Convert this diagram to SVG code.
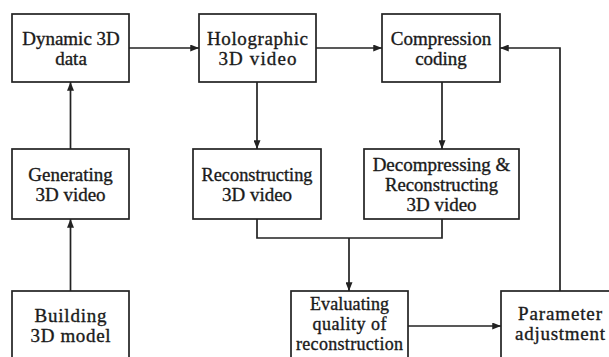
<svg xmlns="http://www.w3.org/2000/svg" width="609" height="357" viewBox="0 0 609 357">
<style>
.box{fill:#fff;stroke:#222;stroke-width:1.7}
.t{font-family:'Liberation Serif','Times New Roman',serif;font-size:19px;fill:#1a1a1a;stroke:#1a1a1a;stroke-width:0.35;text-anchor:middle}
.s{font-size:18px}
.ln{fill:none;stroke:#222;stroke-width:1.7}
</style>
<defs>
<marker id="ah" viewBox="0 0 10 8" refX="10" refY="4" markerWidth="9" markerHeight="7" markerUnits="userSpaceOnUse" orient="auto">
<path d="M0,0 L10,4 L0,8 Z" fill="#222"/>
</marker>
</defs>
<rect width="609" height="357" fill="#fff"/>
<g id="connectors">
<line class="ln" x1="129" y1="48" x2="199" y2="48" marker-end="url(#ah)"/>
<line class="ln" x1="316" y1="48" x2="382" y2="48" marker-end="url(#ah)"/>
<line class="ln" x1="70.5" y1="149" x2="70.5" y2="82" marker-end="url(#ah)"/>
<line class="ln" x1="70.5" y1="291" x2="70.5" y2="219" marker-end="url(#ah)"/>
<line class="ln" x1="257" y1="82" x2="257" y2="149" marker-end="url(#ah)"/>
<line class="ln" x1="442" y1="82" x2="442" y2="149" marker-end="url(#ah)"/>
<polyline class="ln" points="257,219 257,238 442,238 442,219"/>
<line class="ln" x1="349" y1="238" x2="349" y2="291" marker-end="url(#ah)"/>
<line class="ln" x1="408" y1="326" x2="501" y2="326" marker-end="url(#ah)"/>
<polyline class="ln" points="560,291 560,48 500,48" marker-end="url(#ah)"/>
</g>
<g id="dynamic">
<rect class="box" x="12" y="14" width="117" height="68"/>
<text class="t" x="71" y="45">Dynamic 3D</text>
<text class="t" x="71" y="64.5">data</text>
</g>
<g id="holographic">
<rect class="box" x="199" y="14" width="117" height="68"/>
<text class="t" x="257.5" y="45" textLength="101" lengthAdjust="spacing">Holographic</text>
<text class="t" x="257.5" y="64.5" textLength="78" lengthAdjust="spacing">3D video</text>
</g>
<g id="compression">
<rect class="box" x="382" y="14" width="118" height="68"/>
<text class="t" x="441" y="45">Compression</text>
<text class="t" x="441" y="64.5">coding</text>
</g>
<g id="generating">
<rect class="box" x="12" y="149" width="117" height="70"/>
<text class="t" x="70.5" y="181">Generating</text>
<text class="t" x="70.5" y="201">3D video</text>
</g>
<g id="reconstructing">
<rect class="box" x="193" y="149" width="128" height="70"/>
<text class="t" x="257" y="181" textLength="111" lengthAdjust="spacingAndGlyphs">Reconstructing</text>
<text class="t" x="257" y="201">3D video</text>
</g>
<g id="decompressing">
<rect class="box" x="364" y="149" width="155" height="70"/>
<text class="t" x="441.5" y="170.5">Decompressing &amp;</text>
<text class="t" x="441.5" y="190.5" textLength="113" lengthAdjust="spacingAndGlyphs">Reconstructing</text>
<text class="t" x="441.5" y="210.5">3D video</text>
</g>
<g id="building">
<rect class="box" x="12" y="291" width="117" height="72"/>
<text class="t" x="70.5" y="322" textLength="72" lengthAdjust="spacing">Building</text>
<text class="t" x="70.5" y="342" textLength="80" lengthAdjust="spacing">3D model</text>
</g>
<g id="evaluating">
<rect class="box" x="291" y="291" width="117" height="72"/>
<text class="t s" x="349.5" y="309.5" textLength="79" lengthAdjust="spacing">Evaluating</text>
<text class="t s" x="349.5" y="329.5" textLength="74" lengthAdjust="spacing">quality of</text>
<text class="t s" x="349.5" y="349.5" textLength="107" lengthAdjust="spacing">reconstruction</text>
</g>
<g id="parameter">
<rect class="box" x="501" y="291" width="118" height="72"/>
<text class="t" x="560" y="320" textLength="84" lengthAdjust="spacing">Parameter</text>
<text class="t" x="560" y="340" textLength="90" lengthAdjust="spacing">adjustment</text>
</g>
</svg>
